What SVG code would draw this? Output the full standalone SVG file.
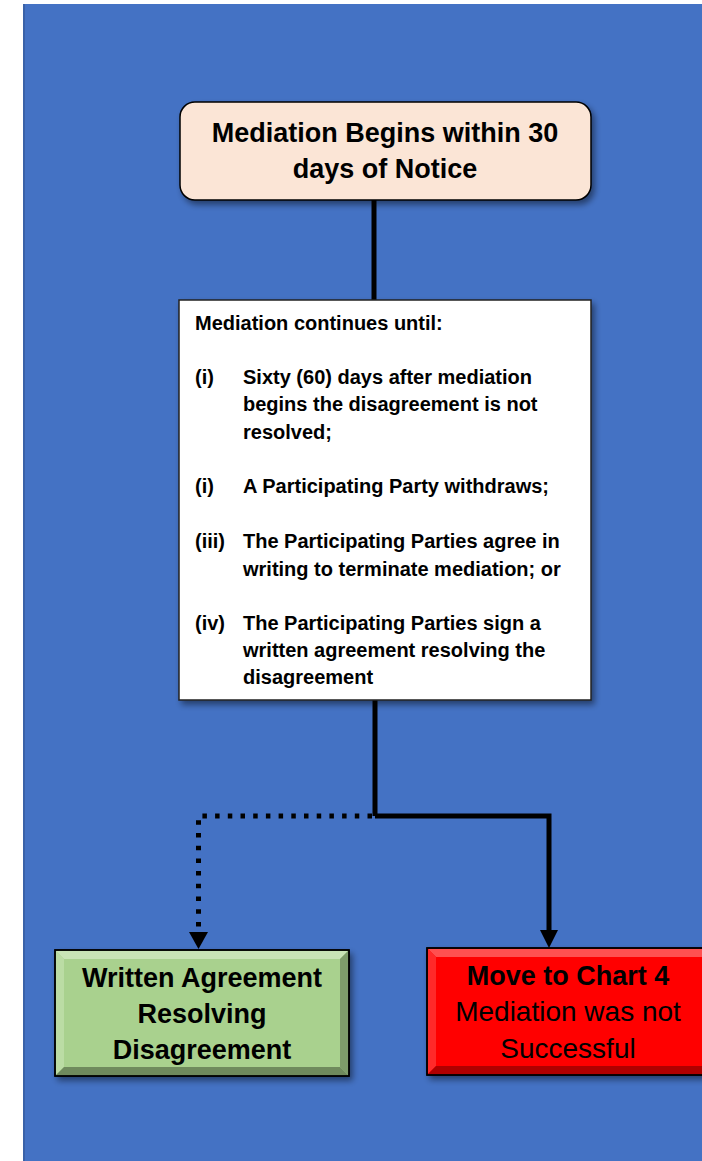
<svg xmlns="http://www.w3.org/2000/svg" width="702" height="1161" viewBox="0 0 702 1161">
<defs>
<style>
.t{font-family:"Liberation Sans",Arial,sans-serif;fill:#000}
.b{font-weight:bold}
.h{font-size:27px;text-anchor:middle}
.r{font-size:28px;text-anchor:middle}
.s{font-size:20px;font-weight:bold}
.cs{fill:none;stroke:#000;stroke-width:5}
.cd{fill:none;stroke:#000;stroke-width:5;stroke-dasharray:4.5 8.2}
</style>
<filter id="sh" x="-10%" y="-10%" width="130%" height="130%">
<feGaussianBlur in="SourceAlpha" stdDeviation="3"/>
<feOffset dx="3" dy="4" result="o"/>
<feComponentTransfer><feFuncA type="linear" slope="0.45"/></feComponentTransfer>
<feMerge><feMergeNode/><feMergeNode in="SourceGraphic"/></feMerge>
</filter>
</defs>
<rect x="0" y="0" width="702" height="1161" fill="#fff"/>
<rect x="23" y="4" width="679" height="1157" fill="#4472C4"/>
<rect x="23" y="4" width="2" height="1157" fill="#3a62a8"/>

<g id="connectors">
<line class="cs" x1="374" y1="200" x2="374" y2="300"/>
<line class="cs" x1="375" y1="700" x2="375" y2="816"/>
<path class="cs" d="M375,816 H549 V930"/>
<path d="M540,930 L558,930 L549,948 z" fill="#000"/>
<path class="cd" d="M372,816 H198.5 V932"/>
<path d="M189,932 L208,932 L198.5,949 z" fill="#000"/>
</g>

<g id="n1">
<rect x="180" y="102" width="411" height="98" rx="15" fill="#FBE5D6" stroke="#000" stroke-width="1.5" filter="url(#sh)"/>
<text class="t b h" x="385" y="142">Mediation Begins within 30</text>
<text class="t b h" x="385" y="178">days of Notice</text>
</g>

<g id="n2">
<rect x="179" y="300" width="412" height="400" fill="#fff" stroke="#222" stroke-width="1.5" filter="url(#sh)"/>
<text class="t s" x="195" y="330">Mediation continues until:</text>
<text class="t s" x="195" y="384">(i)</text>
<text class="t s" x="243" y="384">Sixty (60) days after mediation</text>
<text class="t s" x="243" y="411">begins the disagreement is not</text>
<text class="t s" x="243" y="439">resolved;</text>
<text class="t s" x="195" y="493">(i)</text>
<text class="t s" x="243" y="493">A Participating Party withdraws;</text>
<text class="t s" x="195" y="548">(iii)</text>
<text class="t s" x="243" y="548">The Participating Parties agree in</text>
<text class="t s" x="243" y="576">writing to terminate mediation; or</text>
<text class="t s" x="195" y="630">(iv)</text>
<text class="t s" x="243" y="630">The Participating Parties sign a</text>
<text class="t s" x="243" y="657">written agreement resolving the</text>
<text class="t s" x="243" y="684">disagreement</text>
</g>

<g id="n3">
<rect x="55" y="950" width="294" height="126" fill="#A9D18E" stroke="#000" stroke-width="1.5" filter="url(#sh)"/>
<polygon points="56,951 348,951 340,959 64,959" fill="#C9E4B6"/>
<polygon points="56,951 64,959 64,1067 56,1075" fill="#BBDCA4"/>
<polygon points="348,951 348,1075 340,1067 340,959" fill="#7E9C6A"/>
<polygon points="56,1075 348,1075 340,1067 64,1067" fill="#6F8A5D"/>
<rect x="55" y="950" width="294" height="126" fill="none" stroke="#000" stroke-width="1.5"/>
<text class="t b h" x="202" y="987">Written Agreement</text>
<text class="t b h" x="202" y="1023">Resolving</text>
<text class="t b h" x="202" y="1059">Disagreement</text>
</g>

<g id="n4">
<rect x="427" y="948" width="290" height="127" fill="#FF0000" stroke="#000" stroke-width="1.5" filter="url(#sh)"/>
<polygon points="428,949 716,949 708,957 436,957" fill="#FF5050"/>
<polygon points="428,949 436,957 436,1066 428,1074" fill="#FF2a2a"/>
<polygon points="428,1074 716,1074 708,1066 436,1066" fill="#B00000"/>
<rect x="427" y="948" width="290" height="127" fill="none" stroke="#000" stroke-width="1.5"/>
<text class="t b h" x="568" y="985">Move to Chart 4</text>
<text class="t r" x="568" y="1021">Mediation was not</text>
<text class="t r" x="568" y="1058">Successful</text>
</g>
</svg>
